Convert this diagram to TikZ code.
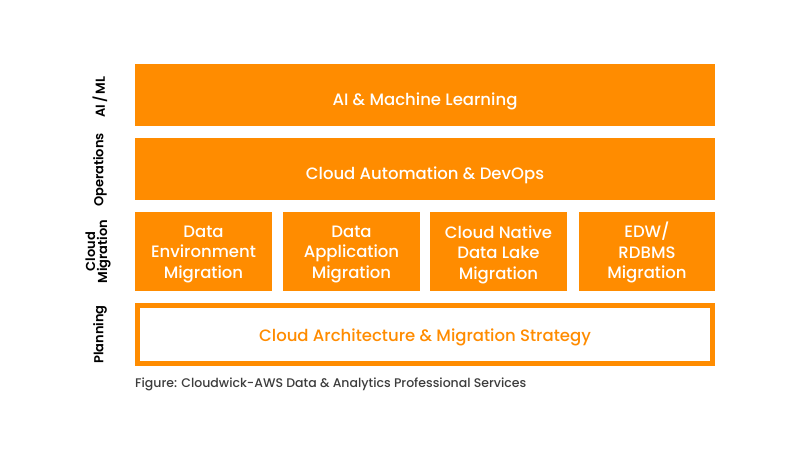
\documentclass[tikz,border=0pt]{standalone}
\usepackage{fontspec}
\setmainfont{Poppins}[UprightFont = * Medium, BoldFont = * SemiBold]
\usetikzlibrary{positioning}
\definecolor{cworange}{RGB}{255,140,0}
\definecolor{capgrey}{RGB}{60,60,60}
\tikzset{layer box/.style = {fill = cworange, draw = none, inner sep = 0pt}}
\tikzset{plan box/.style = {fill = white, draw = cworange, line width = 5pt, inner sep = 0pt}}
\tikzset{box text/.style = {text = white, align = center, inner sep = 0pt, font = \fontsize{16.5}{20.5}\selectfont}}
\tikzset{side label/.style = {rotate = 90, align = center, font = \bfseries\fontsize{13}{12}\selectfont}}

\begin{document}
\begin{tikzpicture}[x = 1pt, y = -1pt]

  \useasboundingbox (0 , 0) rectangle (800 , 456);

  \def\wide{580}
  \def\tall{62}

  % full width layers
  \node [layer box, minimum width = \wide, minimum height = \tall] (aiml) at (425 , 95) {};
  \node [layer box, minimum width = \wide, minimum height = \tall] (devops) at (425 , 169) {};
  \node [box text, yshift = -6pt] (aimltext) at (aiml) {AI \& Machine Learning};
  \node [box text, yshift = -6pt] (devopstext) at (devops) {Cloud Automation \& DevOps};

  % migration row
  \node [layer box, minimum width = 137, minimum height = 79] (envmig) at (203.5 , 251.5) {};
  \node [layer box, minimum width = 137, minimum height = 79] (appmig) at (351.5 , 251.5) {};
  \node [layer box, minimum width = 137, minimum height = 79] (lakemig) at (498.5 , 251.5) {};
  \node [layer box, minimum width = 136, minimum height = 79] (edwmig) at (647 , 251.5) {};
  \node [box text, yshift = -3pt] (envmigtext) at (envmig) {Data\\Environment\\Migration};
  \node [box text, yshift = -3pt] (appmigtext) at (appmig) {Data\\Application\\Migration};
  \node [box text, yshift = -3pt] (lakemigtext) at (lakemig) {Cloud Native\\Data Lake\\Migration};
  \node [box text, yshift = -1pt] (edwmigtext) at (edwmig) {EDW/\\RDBMS\\Migration};

  % planning layer
  \node [plan box, minimum width = \wide - 5, minimum height = 58] (strategy) at (425 , 334.5) {};
  \node [box text, text = cworange, yshift = -3pt] (strategytext) at (strategy) {Cloud Architecture \& Migration Strategy};

  % side labels
  \node [side label] (aimllabel) at (100 , 97) {AI\,/\,ML};
  \node [side label] (opslabel) at (100 , 170) {Operations};
  \node [side label] (miglabel) at (98 , 251.5) {Cloud\\Migration};
  \node [side label] (planlabel) at (100 , 334.5) {Planning};

  \node [anchor = west, text = capgrey, inner sep = 0pt, font = \fontsize{12.5}{13}\selectfont] (caption) at (135 , 384) {Figure: Cloudwick-AWS Data \& Analytics Professional Services};

\end{tikzpicture}
\end{document}
